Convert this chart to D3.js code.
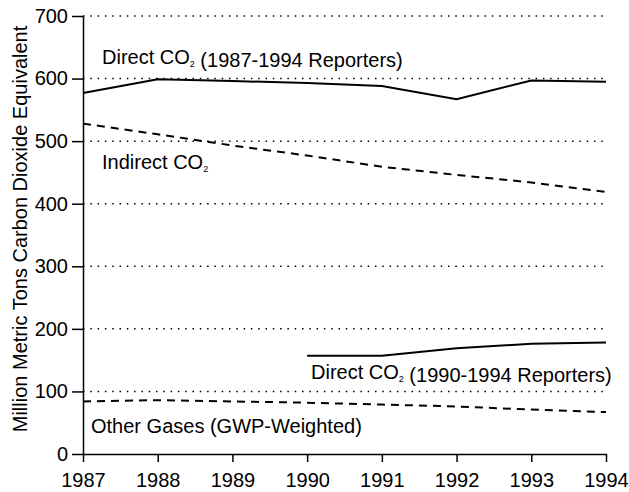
<!DOCTYPE html>
<html>
<head>
<meta charset="utf-8">
<script src="https://cdn.jsdelivr.net/npm/d3@7"></script>
<style>
  body { margin: 0; background: #fff; }
  text { font-family: "Liberation Sans", Arial, sans-serif; fill: #000; }
</style>
</head>
<body>
<script>
// Data
var years = [1987, 1988, 1989, 1990, 1991, 1992, 1993, 1994];
var directCO2All = [577, 599, 596, 593, 588, 567, 597, 595];
var indirectCO2 = [528, 511, 493, 477, 459, 446, 434, 419];
var years9094 = [1990, 1991, 1992, 1993, 1994];
var directCO2New = [157, 157, 169, 176, 178];
var otherGases = [84, 86, 84, 82, 79, 76, 71, 67];
var yTicks = [0, 100, 200, 300, 400, 500, 600, 700];

var width = 629, height = 492;
var margin = {top: 16, right: 23, bottom: 38, left: 83};

var svg = d3.select('body').append('svg')
  .attr('width', width)
  .attr('height', height);

var x = d3.scaleLinear()
  .domain([1987, 1994])
  .range([margin.left, width - margin.right]);

var y = d3.scaleLinear()
  .domain([0, 700])
  .range([height - margin.bottom, margin.top]);

// dotted gridlines
svg.append('g')
  .selectAll('line')
  .data(yTicks.filter(d => d > 0))
  .enter().append('line')
  .attr('x1', x(1987))
  .attr('x2', x(1994))
  .attr('y1', d => y(d))
  .attr('y2', d => y(d))
  .attr('stroke', '#000')
  .attr('stroke-width', 1.5)
  .attr('stroke-dasharray', '1.5,5.8');

// axes
var yAxis = svg.append('g')
  .attr('transform', 'translate(' + margin.left + ',0)')
  .call(d3.axisLeft(y).tickValues(yTicks).tickSize(11).tickPadding(4).tickSizeOuter(0));

var xAxis = svg.append('g')
  .attr('transform', 'translate(0,' + (height - margin.bottom) + ')')
  .call(d3.axisBottom(x).tickValues(years).tickFormat(d3.format('d')).tickSize(8).tickPadding(11).tickSizeOuter(0));

[yAxis, xAxis].forEach(function(a) {
  a.select('.domain').attr('stroke', '#000').attr('stroke-width', 1.5);
  a.selectAll('.tick line').attr('stroke', '#000').attr('stroke-width', 1.5);
  a.selectAll('.tick text')
    .style('font-family', '"Liberation Sans", Arial, sans-serif')
    .style('font-size', '20px')
    .attr('fill', '#000');
});

// y axis title
svg.append('text')
  .attr('transform', 'translate(27,229) rotate(-90)')
  .attr('text-anchor', 'middle')
  .style('font-size', '20px')
  .text('Million Metric Tons Carbon Dioxide Equivalent');

// lines
var line = d3.line()
  .x(d => x(d[0]))
  .y(d => y(d[1]));

function drawSeries(xs, vals, dashed) {
  svg.append('path')
    .datum(xs.map((d, i) => [d, vals[i]]))
    .attr('d', line)
    .attr('fill', 'none')
    .attr('stroke', '#000')
    .attr('stroke-width', 2)
    .attr('stroke-dasharray', dashed ? '8,6' : null);
}

drawSeries(years, directCO2All, false);
drawSeries(years, indirectCO2, true);
drawSeries(years9094, directCO2New, false);
drawSeries(years, otherGases, true);

// labels with subscripts
function label(px, py, parts) {
  var t = svg.append('text')
    .attr('x', px)
    .attr('y', py)
    .style('font-size', '20px');
  parts.forEach(function(p) {
    if (p.sub) {
      t.append('tspan').attr('dy', 3).style('font-size', '9px').text(p.sub);
      t.append('tspan').attr('dy', -3).text('');
    } else {
      t.append('tspan').text(p.t);
    }
  });
}

label(102, 64, [{t: 'Direct CO'}, {sub: '2'}, {t: ' (1987-1994 Reporters)'}]);
label(102, 169, [{t: 'Indirect CO'}, {sub: '2'}]);
label(311, 379, [{t: 'Direct CO'}, {sub: '2'}, {t: ' (1990-1994 Reporters)'}]);
label(91, 433, [{t: 'Other Gases (GWP-Weighted)'}]);
</script>
</body>
</html>
